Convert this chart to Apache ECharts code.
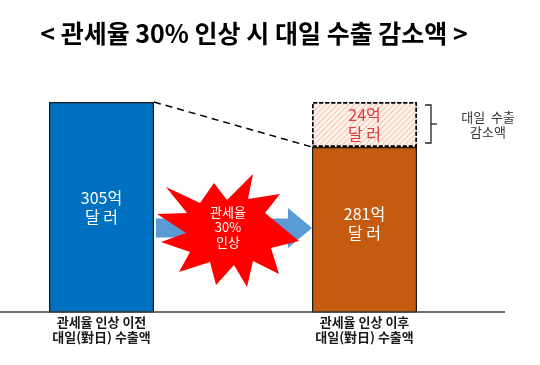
<!DOCTYPE html>
<html><head><meta charset="utf-8">
<script src="https://cdn.jsdelivr.net/npm/echarts@6/dist/echarts.min.js"></script>
<style>html,body{margin:0;padding:0;background:#fff}#c{width:540px;height:365px}</style>
</head><body><div id="c"></div>
<script>
const titleText = '< 관세율 30% 인상 시 대일 수출 감소액 >';
const categories = ['관세율 인상 이전\n대일(對日) 수출액', '관세율 인상 이후\n대일(對日) 수출액'];
const exportValues = [305, 281];
const decreaseValues = [null, 24];
const exportLabels = ['305억\n달 러', '281억\n달 러'];
const decreaseLabel = '24억\n달 러';
const burstText = '관세율\n30%\n인상';
const bracketText = '대일 수출\n감소액';
const barColors = ['#0070C0', '#C55A11'];
const FONT = '"Noto Sans CJK KR", "Noto Sans", sans-serif';

const chart = echarts.init(document.getElementById('c'), null, {renderer: 'canvas'});
const BAR_W = 105;

const option = {
  animation: false,
  backgroundColor: '#fff',
  grid: {left: -30, width: 526, top: 102, bottom: 53, containLabel: false, outerBoundsMode: 'none'},
  xAxis: {
    type: 'category', data: categories,
    axisLine: {show: false}, axisTick: {show: false},
    axisLabel: {margin: 3, color: '#1a1a1a', fontFamily: FONT, fontSize: 13, fontWeight: 'bold', lineHeight: 15}
  },
  yAxis: {type: 'value', min: 193, max: 305, show: false, splitLine: {show: false}},
  series: [
    {
      type: 'bar', stack: 's', barWidth: BAR_W,
      data: exportValues.map((v, i) => ({
        value: v,
        itemStyle: {color: barColors[i]},
        label: {formatter: exportLabels[i], offset: i === 1 ? [0, -6] : [0, 0]}
      })),
      itemStyle: {borderColor: '#1a1a1a', borderWidth: 1.2},
      label: {show: true, position: 'inside', color: '#fff', fontFamily: FONT, fontSize: 16, lineHeight: 19}
    },
    {
      type: 'bar', stack: 's', barWidth: BAR_W,
      data: decreaseValues,
      itemStyle: {
        color: '#fdf2ec', borderColor: '#000', borderWidth: 1.5, borderType: [4, 2],
        decal: {symbol: 'rect', symbolSize: 1, dashArrayX: [1, 0], dashArrayY: [1, 3], rotation: -Math.PI / 4, color: 'rgba(232,160,120,0.55)'}
      },
      label: {show: true, position: 'inside', formatter: decreaseLabel, color: '#e8383d', fontFamily: FONT, fontSize: 16, lineHeight: 19}
    }
  ]
};
chart.setOption(option);

const p0 = chart.convertToPixel({gridIndex: 0}, [0, exportValues[0]]);
const p1 = chart.convertToPixel({gridIndex: 0}, [1, exportValues[1]]);
const p1top = chart.convertToPixel({gridIndex: 0}, [1, exportValues[1] + decreaseValues[1]]);
const base = chart.convertToPixel({gridIndex: 0}, [0, 193]);
const hw = BAR_W / 2;
const baseY = base[1];

const leftX = p0[0] + hw, rightX = p1[0] - hw;
const ay = baseY - 84;
const arrowPts = [[leftX + 2, ay - 9.5], [rightX - 24, ay - 9.5], [rightX - 24, ay - 20], [rightX, ay], [rightX - 24, ay + 20], [rightX - 24, ay + 9.5], [leftX + 2, ay + 9.5]];

const burst = [
  [166, 187], [200, 203], [214, 183], [227, 200], [253, 174], [248, 199], [280, 194], [265, 213],
  [299, 241], [271, 248], [279, 274], [253, 261], [247, 287], [234, 265], [216, 285], [210, 262],
  [179, 272], [190, 252], [161, 242], [186, 233], [157, 214], [187, 213]
];

const bx = p1[0] + hw + 14, bt = p1top[1] + 3, bb = p1[1] - 4, bm = (bt + bb) / 2;

chart.setOption({
  graphic: [
    {type: 'text', style: {text: titleText, x: 254, y: 33, textAlign: 'center', textVerticalAlign: 'middle', font: 'bold 25px ' + FONT, fill: '#000'}},
    {type: 'line', shape: {x1: 0, y1: baseY, x2: 505, y2: baseY}, style: {stroke: '#404040', lineWidth: 1.6}, z: 10},
    {type: 'line', shape: {x1: leftX, y1: p0[1], x2: rightX, y2: p1[1]}, style: {stroke: '#000', lineWidth: 1.5, lineDash: [7, 5]}, z: 10},
    {type: 'polygon', shape: {points: arrowPts}, style: {fill: '#5B9BD5'}, z: 5},
    {type: 'polygon', shape: {points: burst}, style: {fill: '#FF0000'}, z: 6},
    {type: 'text', style: {text: burstText, x: 228, y: 227, textAlign: 'center', textVerticalAlign: 'middle', font: '13px ' + FONT, fill: '#fff', lineHeight: 15}, z: 7},
    {type: 'polyline', shape: {points: [[bx - 6, bt], [bx, bt], [bx, bb], [bx - 6, bb]]}, style: {stroke: '#222', lineWidth: 1.3, fill: null}, z: 10},
    {type: 'line', shape: {x1: bx, y1: bm, x2: bx + 6, y2: bm}, style: {stroke: '#222', lineWidth: 1.3}, z: 10},
    {type: 'text', style: {text: '대일  수출\n감소액', x: 488, y: 125, textAlign: 'center', textVerticalAlign: 'middle', font: '13px ' + FONT, fill: '#333', lineHeight: 15}, z: 10}
  ]
});
</script></body></html>
